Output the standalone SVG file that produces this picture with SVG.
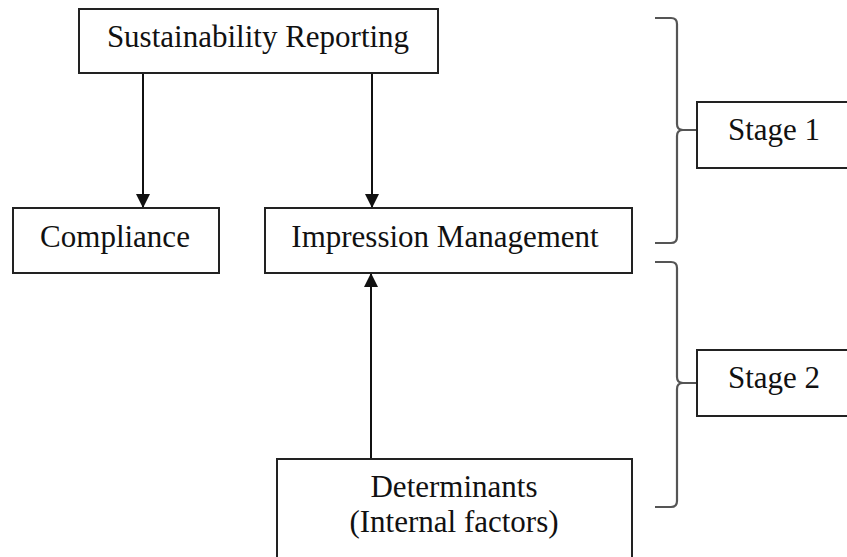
<svg xmlns="http://www.w3.org/2000/svg" width="847" height="557" viewBox="0 0 847 557">
<style>
.box{fill:#fff;stroke:#222;stroke-width:2}
.t{font-family:"Liberation Serif","Times New Roman",serif;font-size:31px;fill:#111}
.c{stroke:#111;stroke-width:2;fill:none}
.br{stroke:#555;stroke-width:2.2;fill:none}
</style>
<defs>
<marker id="ah" markerWidth="14" markerHeight="14" viewBox="0 0 14 14" refX="13" refY="7" orient="auto" markerUnits="userSpaceOnUse">
<path d="M0,0 L14,7 L0,14 Z" fill="#111"/>
</marker>
</defs>
<g id="connectors">
<line class="c" x1="143" y1="73" x2="143" y2="207" marker-end="url(#ah)"/>
<line class="c" x1="372" y1="73" x2="372" y2="207" marker-end="url(#ah)"/>
<line class="c" x1="371" y1="459" x2="371" y2="274" marker-end="url(#ah)"/>
<path class="br" d="M655,18 H671 Q677,18 677,24 V124 Q677,130 683,130 H697 M683,130 Q677,130 677,136 V237 Q677,243 671,243 H655"/>
<path class="br" d="M655,262 H671 Q677,262 677,268 V377 Q677,383 683,383 H697 M683,383 Q677,383 677,389 V501 Q677,507 671,507 H655"/>
</g>
<g id="sustainability">
<rect class="box" x="79" y="9" width="359" height="64"/>
<text class="t" x="258" y="47" text-anchor="middle">Sustainability Reporting</text>
</g>
<g id="compliance">
<rect class="box" x="13" y="208" width="206" height="65"/>
<text class="t" x="115" y="247" text-anchor="middle">Compliance</text>
</g>
<g id="impression">
<rect class="box" x="265" y="208" width="367" height="65"/>
<text class="t" x="445" y="247" text-anchor="middle">Impression Management</text>
</g>
<g id="determinants">
<rect class="box" x="277" y="459" width="355" height="110"/>
<text class="t" x="454" y="497" text-anchor="middle">Determinants</text>
<text class="t" x="454" y="532" text-anchor="middle">(Internal factors)</text>
</g>
<g id="stage1">
<rect class="box" x="697" y="102" width="160" height="66"/>
<text class="t" x="728" y="140">Stage 1</text>
</g>
<g id="stage2">
<rect class="box" x="697" y="350" width="160" height="66"/>
<text class="t" x="728" y="388">Stage 2</text>
</g>
</svg>
